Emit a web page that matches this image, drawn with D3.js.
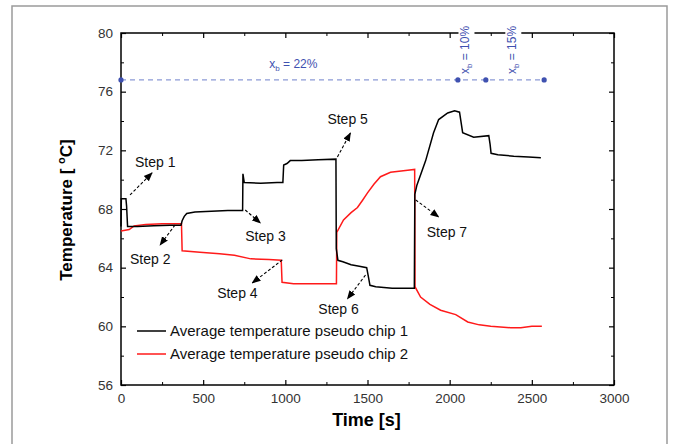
<!DOCTYPE html>
<html><head><meta charset="utf-8">
<script src="https://cdn.jsdelivr.net/npm/d3@7"></script>
<style>body{margin:0;background:#fff}svg{display:block}text{font-family:Arial,"Liberation Sans",sans-serif}</style>
</head><body>
<svg id="c" width="676" height="444"></svg>
<script>
// ---- data ----
const xTicks = [0, 500, 1000, 1500, 2000, 2500, 3000];
const yTicks = [56, 60, 64, 68, 72, 76, 80];
const seriesNames = ["Average temperature pseudo chip 1", "Average temperature pseudo chip 2"];
const chip1 = [[0,66.8],[2,68.7],[30,68.7],[34,68.2],[40,66.8],[100,66.8],[200,66.85],[300,66.9],[365,66.9],[372,67.2],[385,67.5],[400,67.7],[450,67.8],[550,67.85],[650,67.9],[740,67.9],[742,70.4],[750,69.8],[850,69.75],[950,69.8],[985,69.8],[990,71.0],[1010,71.1],[1030,71.3],[1100,71.3],[1200,71.35],[1308,71.4],[1310,65.3],[1320,64.5],[1350,64.4],[1400,64.2],[1450,64.1],[1495,64.0],[1505,63.4],[1515,62.8],[1550,62.7],[1650,62.6],[1785,62.6],[1788,69.0],[1800,69.6],[1854,71.3],[1902,73.2],[1933,74.1],[1988,74.55],[2030,74.7],[2060,74.6],[2067,74.1],[2079,73.2],[2146,72.9],[2238,73.0],[2246,72.4],[2252,71.8],[2293,71.7],[2390,71.6],[2480,71.55],[2555,71.5]];
const chip2 = [[0,66.5],[50,66.6],[80,66.85],[150,66.95],[250,67.0],[368,67.0],[372,65.15],[480,65.05],[600,64.95],[690,64.85],[790,64.6],[900,64.55],[975,64.5],[980,63.0],[1050,62.9],[1200,62.9],[1311,62.9],[1313,66.4],[1354,67.25],[1400,67.75],[1439,68.1],[1470,68.6],[1500,69.1],[1540,69.7],[1579,70.2],[1640,70.5],[1744,70.65],[1787,70.7],[1789,62.7],[1823,62.0],[1880,61.5],[1945,61.1],[2037,60.8],[2110,60.3],[2180,60.1],[2250,60.0],[2372,59.9],[2433,59.9],[2500,60.0],[2561,60.0]];
// blue reference line (x_b levels)
const refLevel = 76.8;
const refMarkers = [0, 2050, 2220, 2575];
const refLabels = [
  {t:1049, T:77.6, txt:"22%", rot:false},
  {t:2095, T:78.84, txt:"10%", rot:true},
  {t:2380, T:78.84, txt:"15%", rot:true}
];
// step annotations: label position and arrow (from -> to), data units
const steps = [
  {name:"Step 1", lt:85,  lT:70.87, a:[55,68.96],  b:[189,70.46]},
  {name:"Step 2", lt:55,  lT:64.25, a:[329,66.91], b:[238,65.55]},
  {name:"Step 3", lt:756, lT:65.82, a:[756,67.93], b:[848,67.05]},
  {name:"Step 4", lt:585, lT:61.94, a:[982,64.53], b:[799,62.96]},
  {name:"Step 5", lt:1256,lT:73.80, a:[1317,71.55],b:[1396,73.18]},
  {name:"Step 6", lt:1201,lT:60.85, a:[1488,63.50],b:[1378,61.87]},
  {name:"Step 7", lt:1860,lT:66.09, a:[1793,68.62],b:[1933,67.46]}
];

// ---- layout ----
const svg = d3.select("#c");
const L = 121, R = 614, T0 = 33, B = 385;
const x = d3.scaleLinear().domain([0,3000]).range([L,R]);
const y = d3.scaleLinear().domain([56,80]).range([B,T0]);

// outer frame
svg.append("rect").attr("x",12).attr("y",6).attr("width",655).attr("height",450)
  .attr("fill","none").attr("stroke","#9a9a9a").attr("stroke-width",1.5);

const defs = svg.append("defs");
defs.append("marker").attr("id","ah").attr("viewBox","0 0 10 10").attr("refX",9).attr("refY",5)
  .attr("markerWidth",9).attr("markerHeight",9).attr("markerUnits","userSpaceOnUse").attr("orient","auto")
  .append("path").attr("d","M0,1 L10,5 L0,9 Z").attr("fill","#000");

// axes with inward ticks
const minorX = d3.range(250,3000,500), minorY = d3.range(58,80,4);
function axis(gen, tr, major, minor, lab){
  const g = svg.append("g").attr("transform",tr);
  g.call(gen(major).tickSize(-5).tickPadding(lab?8:0).tickFormat(lab?d3.format("d"):""));
  g.call(sel=>sel.select(".domain").remove());
  g.selectAll(".tick line").attr("stroke","#000").attr("stroke-width",1.2);
  g.selectAll(".tick text").attr("font-size","13.5px").attr("fill","#333").style("font-family","Arial,'Liberation Sans',sans-serif");
  const g2 = svg.append("g").attr("transform",tr);
  g2.call(gen(minor).tickSize(-3).tickFormat(""));
  g2.select(".domain").remove();
  g2.selectAll(".tick line").attr("stroke","#000").attr("stroke-width",1);
  return g;
}
axis(v=>d3.axisBottom(x).tickValues(v), `translate(0,${B})`, xTicks, minorX, true);
axis(v=>d3.axisTop(x).tickValues(v), `translate(0,${T0})`, xTicks, minorX, false);
axis(v=>d3.axisLeft(y).tickValues(v), `translate(${L},0)`, yTicks, minorY, true);
axis(v=>d3.axisRight(y).tickValues(v), `translate(${R},0)`, yTicks, minorY, false);

// plot frame
svg.append("rect").attr("x",L).attr("y",T0).attr("width",R-L).attr("height",B-T0)
  .attr("fill","none").attr("stroke","#000").attr("stroke-width",1.5);

// blue reference line
const blue = "#3f51b0";
svg.append("line").attr("x1",x(refMarkers[0])).attr("x2",x(refMarkers[refMarkers.length-1]))
  .attr("y1",y(refLevel)).attr("y2",y(refLevel))
  .attr("stroke","#8c9ad6").attr("stroke-width",1.2).attr("stroke-dasharray","5,4");
svg.selectAll(".rm").data(refMarkers).enter().append("circle")
  .attr("cx",d=>x(d)).attr("cy",y(refLevel)).attr("r",2.6).attr("fill",blue);
refLabels.forEach(d=>{
  const g = svg.append("g")
    .attr("transform", d.rot ? `translate(${x(d.t)},${y(d.T)}) rotate(-90)` : `translate(${x(d.t)},${y(d.T)})`);
  const t = g.append("text").attr("fill",blue).attr("font-size","12px")
    .attr("text-anchor","middle").attr("dy", d.rot ? "0.35em" : 0);
  t.append("tspan").text("x");
  t.append("tspan").attr("font-size","8px").attr("dy","3").text("b");
  t.append("tspan").attr("dy","-3").text(" = " + d.txt);
  if (d.rot) {
    const bb = t.node().getBBox();
    g.insert("rect","text").attr("x",bb.x-2).attr("y",bb.y).attr("width",bb.width+4).attr("height",bb.height).attr("fill","#fff");
  }
});

// lines
const line = d3.line().x(d=>x(d[0])).y(d=>y(d[1]));
svg.append("path").datum(chip2).attr("d",line).attr("fill","none").attr("stroke","#ff1a1a").attr("stroke-width",1.5);
svg.append("path").datum(chip1).attr("d",line).attr("fill","none").attr("stroke","#000").attr("stroke-width",1.5);

// step annotations
steps.forEach(s=>{
  svg.append("line").attr("x1",x(s.a[0])).attr("y1",y(s.a[1])).attr("x2",x(s.b[0])).attr("y2",y(s.b[1]))
    .attr("stroke","#000").attr("stroke-width",1.1).attr("stroke-dasharray","3,2").attr("marker-end","url(#ah)");
  svg.append("text").attr("x",x(s.lt)).attr("y",y(s.lT)).attr("font-size","14px").attr("fill","#111").text(s.name);
});

// legend
const legY = [331, 354];
const legCol = ["#000","#ff1a1a"];
seriesNames.forEach((n,i)=>{
  svg.append("line").attr("x1",137).attr("x2",166).attr("y1",legY[i]).attr("y2",legY[i]).attr("stroke",legCol[i]).attr("stroke-width",1.5);
  svg.append("text").attr("x",170).attr("y",legY[i]+5).attr("font-size","15px").attr("fill","#111").text(n);
});

// axis titles
svg.append("text").attr("x",(L+R)/2-1).attr("y",426).attr("text-anchor","middle")
  .attr("font-size","18px").attr("font-weight","bold").text("Time [s]");
const yt = svg.append("text").attr("transform",`translate(72,210) rotate(-90)`).attr("text-anchor","middle")
  .attr("font-size","17px").attr("font-weight","bold");
yt.append("tspan").text("Temperature [ ");
yt.append("tspan").attr("font-size","11px").attr("dy","-7").text("o");
yt.append("tspan").attr("dy","7").text("C]");
</script>
</body></html>
